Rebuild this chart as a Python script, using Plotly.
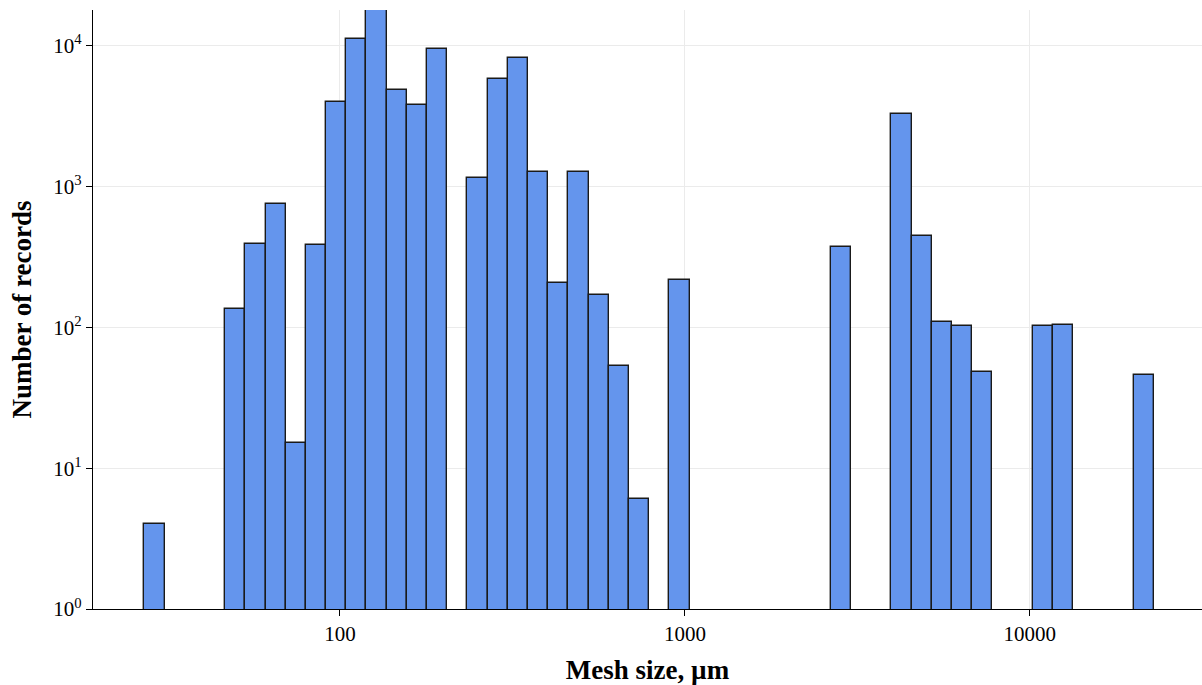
import numpy as np
import plotly.graph_objects as go

# Bin centres (mesh size, µm) of the log-spaced histogram bins that contain records
mesh_size_um = [29.0, 49.7, 56.9, 65.1, 74.4, 85.2, 97.5, 111.5, 127.6, 146.0,
                167.1, 191.2, 250.4, 286.6, 327.9, 375.2, 429.3, 491.3, 562.2,
                643.3, 736.1, 963.9, 2833, 4246, 4859, 5559, 6361, 7278,
                10904, 12481, 21396]
# Number of records in each bin
n_records = [4, 135, 390, 750, 15, 385, 3980, 11200, 17900, 4840,
             3810, 9480, 1150, 5830, 8260, 1270, 206, 1270, 171,
             53, 6, 216, 373, 3300, 449, 109, 102, 48,
             102, 104, 46]

x_tick_vals = [100, 1000, 10000]
x_tick_text = ["100", "1000", "10000"]
y_tick_vals = [1, 10, 100, 1000, 10000]
y_tick_text = ["10<sup>0</sup>", "10<sup>1</sup>", "10<sup>2</sup>",
               "10<sup>3</sup>", "10<sup>4</sup>"]

BIN_WIDTH_LOG = 0.05853  # width of one bin in decades

fig = go.Figure()
fig.add_trace(go.Bar(
    x=np.log10(mesh_size_um),
    y=n_records,
    width=BIN_WIDTH_LOG,
    marker=dict(color="#6495ED", line=dict(color="#1a1a1a", width=1.4)),
    showlegend=False,
))

FONT = "Liberation Serif, Times New Roman, serif"
fig.update_layout(
    width=1202, height=685,
    margin=dict(l=93, r=0, t=10, b=76),
    paper_bgcolor="white", plot_bgcolor="white",
    font=dict(family=FONT, size=21, color="black"),
    bargap=0,
    xaxis=dict(
        range=[1.284, 4.499],
        automargin=False,
        tickvals=np.log10(x_tick_vals), ticktext=x_tick_text,
        showgrid=True, gridcolor="#ebebeb", gridwidth=1.2,
        showline=True, linecolor="black", linewidth=1.3,
        ticks="outside", ticklen=6, tickcolor="black", tickwidth=1.3,
        zeroline=False,
        tickfont=dict(family=FONT, size=21, color="black"),
        title=dict(text="<b>Mesh size, µm</b>",
                   font=dict(family=FONT, size=27, color="black"),
                   standoff=14),
    ),
    yaxis=dict(
        type="log", range=[0, 4.2553],
        automargin=False,
        tickvals=y_tick_vals, ticktext=y_tick_text,
        showgrid=True, gridcolor="#ebebeb", gridwidth=1.2,
        showline=True, linecolor="black", linewidth=1.3,
        ticks="outside", ticklen=6, tickcolor="black", tickwidth=1.3,
        zeroline=False,
        tickfont=dict(family=FONT, size=21, color="black"),
        title=dict(text="<b>Number of records</b>",
                   font=dict(family=FONT, size=27, color="black"),
                   standoff=13),
    ),
)

fig.write_html("out.html",
               config={"displayModeBar": False},
               post_script="document.body.style.margin='0';document.body.style.padding='0';")
